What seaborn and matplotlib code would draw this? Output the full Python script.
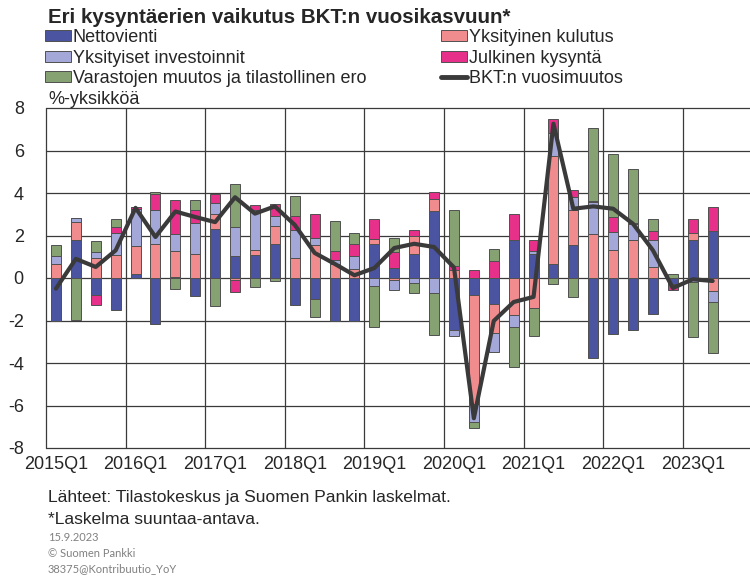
import numpy as np
import pandas as pd
import matplotlib
matplotlib.use("Agg")
import matplotlib.pyplot as plt
import seaborn as sns
from matplotlib.patches import Patch
from matplotlib.lines import Line2D

# ---------------- data ----------------
quarters = [f"{y}Q{q}" for y in range(2015, 2024) for q in range(1, 5)][:34]

nettovienti = [-2.0, 1.8, -0.78, -1.52, 0.2, -2.15, 0.05, -0.85, 2.32, 1.03, 1.1, 1.61,
               -1.29, -1.0, -2.0, -2.04, 1.61, 0.49, 1.11, 3.15, -2.46, -0.78, -1.2, 1.77,
               1.14, 0.64, 1.57, -3.76, -2.62, -2.46, -1.68, -0.3, 1.79, 2.23]
kulutus = [0.67, 0.83, 0.94, 1.07, 1.3, 1.6, 1.22, 1.14, 0.7, -0.08, 0.2, 0.83,
           0.96, 1.57, 0.67, 0.44, 0.24, -0.1, 0.85, 0.58, 0.36, -5.13, -1.41, -1.72,
           -1.39, 5.09, 1.65, 2.08, 1.33, 1.77, 0.5, 0.0, 0.31, -0.6]
investoinnit = [0.38, 0.19, 0.28, 1.05, 1.75, 1.6, 0.82, 1.46, 0.5, 1.39, 1.88, 0.47,
                1.28, 0.33, 0.19, 0.6, -0.39, -0.45, -0.24, -0.7, -0.28, -0.86, -0.86, -0.58,
                0.11, 1.1, 0.6, 1.49, 0.83, 0.78, 1.29, 0.0, -0.2, -0.52]
julkinen = [0.0, 0.0, -0.47, 0.28, 0.08, 0.75, 1.57, 0.61, 0.44, -0.58, 0.24, 0.55,
            0.66, 1.13, 0.4, 0.58, 0.94, 0.72, 0.31, 0.31, 0.2, 0.39, 0.8, 1.25,
            0.55, 0.66, 0.31, 0.05, 0.71, 0.05, 0.44, -0.25, 0.67, 1.1]
varastot = [0.52, -1.96, 0.5, 0.39, 0.0, 0.12, -0.5, 0.47, -1.33, 2.0, -0.42, -0.16,
            0.96, -0.83, 1.44, 0.52, -1.91, 0.69, -0.45, -1.96, 2.66, -0.31, 0.58, -1.88,
            -1.33, -0.27, -0.89, 3.45, 2.98, 2.51, 0.55, 0.17, -2.59, -2.4]
bkt = [-0.5, 0.9, 0.52, 1.3, 3.3, 1.93, 3.13, 2.87, 2.63, 3.8, 3.03, 3.37,
       2.5, 1.18, 0.67, 0.13, 0.47, 1.41, 1.61, 1.46, 0.5, -6.6, -2.02, -1.13,
       -0.89, 7.26, 3.26, 3.37, 3.26, 2.55, 1.3, -0.47, -0.06, -0.14]

names = ["Nettovienti", "Yksityinen kulutus", "Yksityiset investoinnit",
         "Julkinen kysyntä", "Varastojen muutos ja tilastollinen ero"]
colors = ["#4A54A0", "#F08C8E", "#A4A8D8", "#E6308A", "#86A272"]
line_name = "BKT:n vuosimuutos"
line_color = "#3A3A3A"

# ---------------- figure ----------------
sns.set_theme(style="white")
plt.rcParams["font.family"] = ["Liberation Sans", "DejaVu Sans"]

W, H = 750, 578
fig = plt.figure(figsize=(W / 100, H / 100), dpi=100)
ax_left, ax_top, ax_bot = 46, 108, 448
slot = 19.9
n_slots = 36
ax = fig.add_axes([ax_left / W, 1 - ax_bot / H, n_slots * slot / W, (ax_bot - ax_top) / H])

n = len(quarters)
pos_base = np.zeros(n)
neg_base = np.zeros(n)
for name, vals, col in zip(names, [nettovienti, kulutus, investoinnit, julkinen, varastot], colors):
    v = np.array(vals, dtype=float)
    bottom = np.where(v >= 0, pos_base, neg_base)
    df = pd.DataFrame({"q": quarters, "v": v})
    sns.barplot(data=df, x="q", y="v", order=quarters, color=col, saturation=1,
                bottom=bottom, width=0.5, errorbar=None, edgecolor="#505050",
                linewidth=0.7, ax=ax, zorder=2)
    pos_base += np.clip(v, 0, None)
    neg_base += np.clip(v, None, 0)

dfl = pd.DataFrame({"i": np.arange(n), "bkt": bkt})
sns.lineplot(data=dfl, x="i", y="bkt", color=line_color, linewidth=3.0, ax=ax, zorder=4)

ax.set_xlim(-0.5, n_slots - 0.5)
ax.set_ylim(-8, 8)
for y in range(-8, 9, 2):
    ax.axhline(y, color="#3a3a3a", lw=0.9, zorder=0, clip_on=False)
for xv in np.arange(-0.5, 33, 4):
    ax.axvline(xv, color="#3a3a3a", lw=0.9, zorder=0, clip_on=False)
for s in ax.spines.values():
    s.set_visible(False)

ax.set_yticks(range(-8, 9, 2))
ax.set_yticklabels([str(v) for v in range(-8, 9, 2)], fontsize=13)
ax.set_xticks(range(0, n, 4))
ax.set_xticklabels(quarters[0::4], fontsize=13)
ax.tick_params(axis="y", length=0, pad=16)
ax.tick_params(axis="x", length=0, pad=6)
ax.set_xlabel("")
ax.set_ylabel("")

# ---------------- texts ----------------
fig.text(48 / W, 1 - 8 / H, "Eri kysyntäerien vaikutus BKT:n vuosikasvuun*",
         fontsize=14.8, fontweight="bold", va="top", ha="left")
fig.text(48 / W, 1 - 91 / H, "%-yksikköä", fontsize=13, va="top", ha="left")

def patch(c):
    return Patch(facecolor=c, edgecolor="#505050", linewidth=0.7)

leg_kw = dict(frameon=False, fontsize=13, handlelength=1.45, handleheight=0.55,
              handletextpad=0.1, labelspacing=0.2, borderpad=0, borderaxespad=0,
              loc="upper left")
h1 = [patch(colors[0]), patch(colors[2]), patch(colors[4])]
l1 = [names[0], names[2], names[4]]
fig.legend(h1, l1, bbox_to_anchor=(45 / W, 1 - 29 / H), **leg_kw)
h2 = [patch(colors[1]), patch(colors[3]), Line2D([0], [0], color=line_color, lw=3.5)]
l2 = [names[1], names[3], line_name]
fig.legend(h2, l2, bbox_to_anchor=(441 / W, 1 - 29 / H), **leg_kw)

fig.text(48 / W, 1 - 490 / H, "Lähteet: Tilastokeskus ja Suomen Pankin laskelmat.",
         fontsize=12.6, va="top", ha="left")
fig.text(48 / W, 1 - 512 / H, "*Laskelma suuntaa-antava.", fontsize=12.6, va="top", ha="left")
small = dict(fontsize=8, color="#808080", va="top", ha="left", family=["Lato", "DejaVu Sans"])
fig.text(48 / W, 1 - 532 / H, "15.9.2023", **small)
fig.text(48 / W, 1 - 548 / H, "© Suomen Pankki", **small)
fig.text(48 / W, 1 - 563 / H, "38375@Kontribuutio_YoY", **small)

fig.savefig("out.png", dpi=100)
